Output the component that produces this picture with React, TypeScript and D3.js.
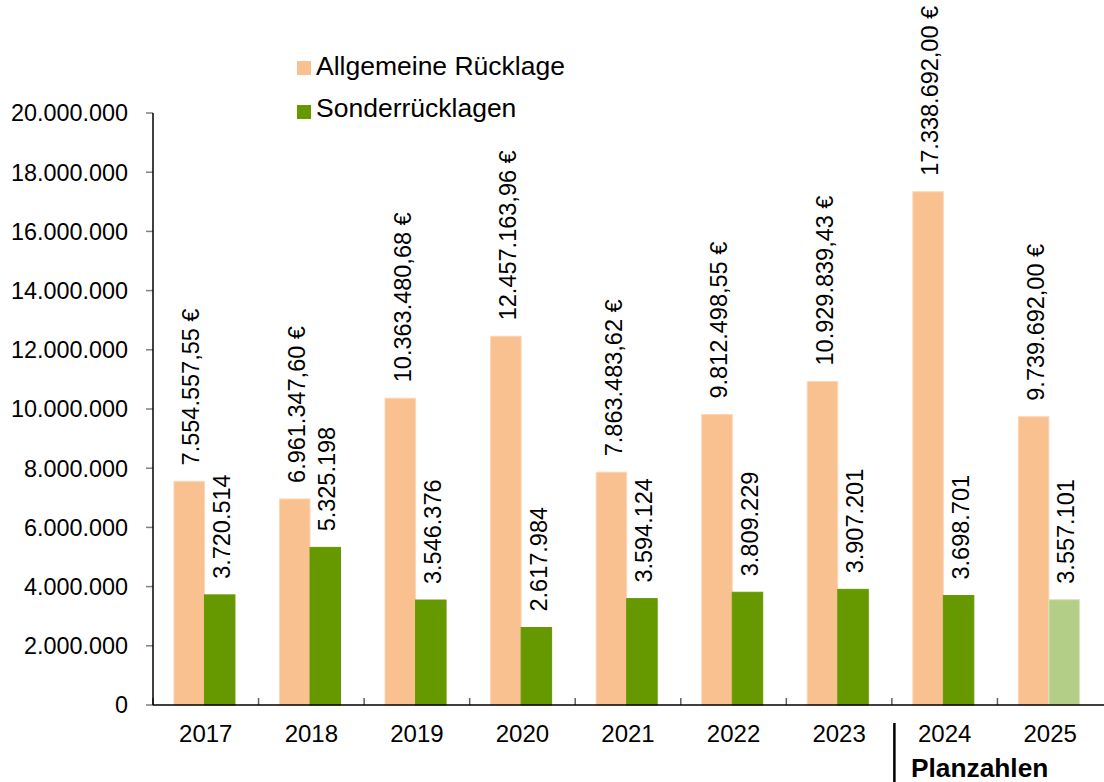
import React from "react";
import * as d3 from "d3";

const years = ["2017", "2018", "2019", "2020", "2021", "2022", "2023", "2024", "2025"];
const allgemeine = [7554557.55, 6961347.6, 10363480.68, 12457163.96, 7863483.62, 9812498.55, 10929839.43, 17338692.0, 9739692.0];
const sonder = [3720514, 5325198, 3546376, 2617984, 3594124, 3809229, 3907201, 3698701, 3557101];
const yTicks = [0, 2000000, 4000000, 6000000, 8000000, 10000000, 12000000, 14000000, 16000000, 18000000, 20000000];
const seriesNames = ["Allgemeine Rücklage", "Sonderrücklagen"];
const planYears = ["2025"];

const W = 1104;
const H = 782;
const left = 153;
const right = 1103;
const top = 113;
const bottom = 705;

const ORANGE = "#F9C090";
const GREEN = "#669900";
const LIGHTGREEN = "#B3CE86";
const FONT = "Arial, 'Liberation Sans', sans-serif";

const de = d3.formatLocale({ decimal: ",", thousands: ".", grouping: [3], currency: ["", " €"] });
const fmtInt = de.format(",.0f");
const fmtEur = de.format(",.2f");

export default function App() {
  const x = d3.scaleBand<string>().domain(years).range([left, right]).paddingInner(0).paddingOuter(0);
  const x1 = d3.scaleBand<string>().domain(seriesNames).range([0, x.bandwidth()]).paddingInner(0).paddingOuter(0.73).align(0.47);
  const y = d3.scaleLinear().domain([0, 20000000]).range([bottom, top]);
  const bw = x1.bandwidth();

  return (
    <svg width={W} height={H} style={{ position: "absolute", left: 0, top: 0, display: "block", background: "#fff" }} fontFamily={FONT}>
      {/* y ticks and labels */}
      {yTicks.map((t) => (
        <g key={t}>
          <line x1={left - 7} x2={left} y1={y(t)} y2={y(t)} stroke="#808080" strokeWidth={1.5} />
          <text x={128} y={y(t)} dy="0.36em" textAnchor="end" fontSize={23.4} fill="#000">
            {fmtInt(t)}
          </text>
        </g>
      ))}
      {/* bars */}
      {years.map((yr, i) => {
        const gx = x(yr)!;
        const ox = gx + x1(seriesNames[0])!;
        const sx = gx + x1(seriesNames[1])!;
        const plan = planYears.includes(yr);
        return (
          <g key={yr}>
            <rect x={ox} y={y(allgemeine[i])} width={bw} height={bottom - y(allgemeine[i])} fill={ORANGE} stroke="#FCD6B5" strokeWidth={1} />
            <rect x={sx} y={y(sonder[i])} width={bw} height={bottom - y(sonder[i])} fill={plan ? LIGHTGREEN : GREEN} stroke={plan ? "#D3E5BA" : GREEN} strokeWidth={1} />
            <text
              transform={`translate(${ox + bw / 2 + 2},${y(allgemeine[i]) - 16}) rotate(-90)`}
              dy="0.35em"
              fontSize={23.5}
              textAnchor="start"
              fill="#000"
            >
              {fmtEur(allgemeine[i]) + " €"}
            </text>
            <text
              transform={`translate(${sx + bw / 2 + 2},${y(sonder[i]) - 16}) rotate(-90)`}
              dy="0.35em"
              fontSize={23.5}
              textAnchor="start"
              fill="#000"
            >
              {fmtInt(sonder[i])}
            </text>
            <text x={gx + x.bandwidth() / 2} y={742} textAnchor="middle" fontSize={24} fill="#000">
              {yr}
            </text>
          </g>
        );
      })}
      {/* x ticks */}
      {years.map((yr) => (
        <line key={"t" + yr} x1={x(yr)!} x2={x(yr)!} y1={bottom} y2={bottom - 7} stroke="#606060" strokeWidth={1.5} />
      ))}
      {/* axes */}
      <line x1={left} x2={left} y1={top} y2={bottom} stroke="#000" strokeWidth={1.5} />
      <line x1={left} x2={right + 1} y1={bottom} y2={bottom} stroke="#000" strokeWidth={1.5} />
      {/* Planzahlen separator */}
      <line x1={x("2024")! + 2.5} x2={x("2024")! + 2.5} y1={723} y2={H} stroke="#000" strokeWidth={2.5} />
      <text x={911} y={777} fontSize={26.3} fontWeight="bold" fill="#000">
        Planzahlen
      </text>
      {/* legend */}
      {seriesNames.map((n, i) => (
        <g key={n}>
          <rect x={297} y={61 + i * 44} width={14} height={14} fill={i === 0 ? ORANGE : GREEN} />
          <text x={316} y={75 + i * 42} fontSize={26.5} fill="#000">
            {n}
          </text>
        </g>
      ))}
    </svg>
  );
}
